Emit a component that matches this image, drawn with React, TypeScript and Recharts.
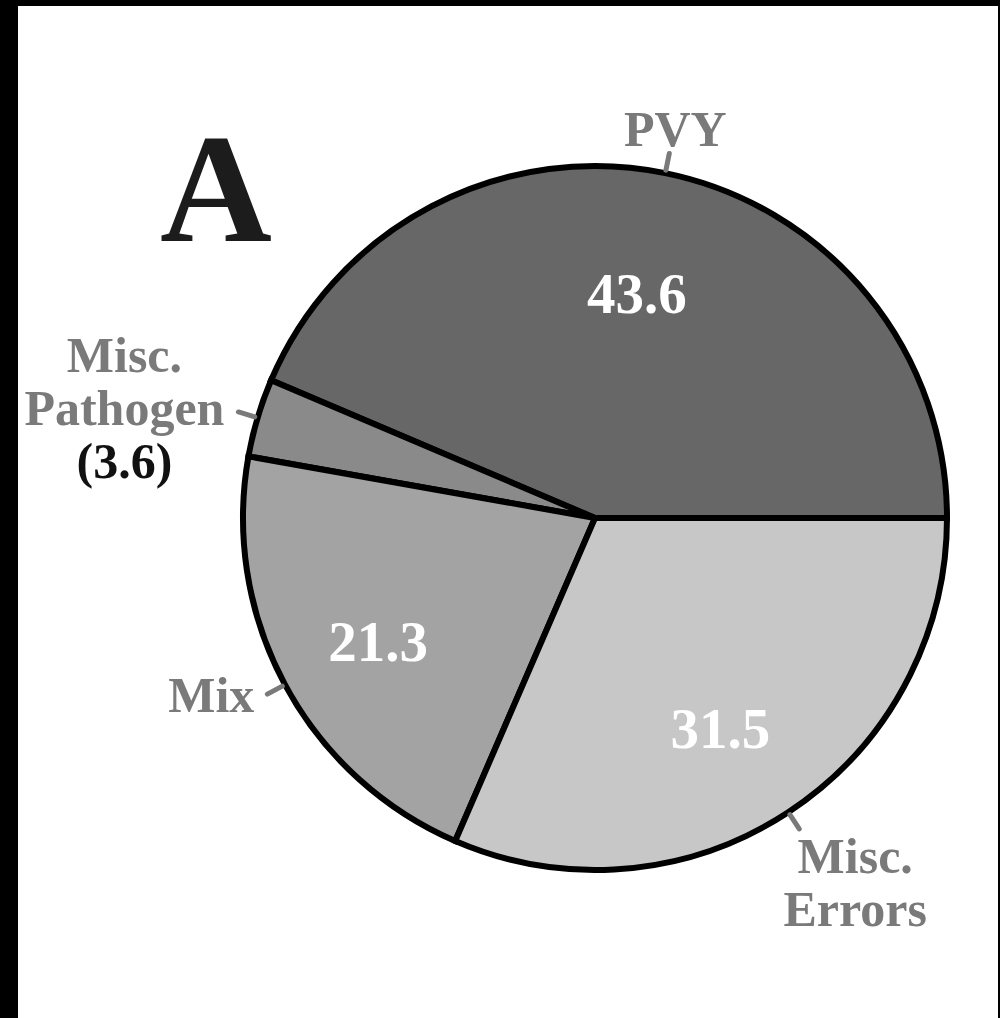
import { PieChart, Pie, Cell } from "recharts"

const categories = ["PVY", "Misc. Pathogen", "Mix", "Misc. Errors"]
const shares = [43.6, 3.6, 21.3, 31.5]
const outerLines = [["PVY"], ["Misc.", "Pathogen"], ["Mix"], ["Misc.", "Errors"]]

const data = categories.map((name, i) => ({ name, value: shares[i] }))

const fills = ["#676767", "#8a8a8a", "#a3a3a3", "#c7c7c7"]
const serif = "'Liberation Serif', 'Times New Roman', serif"
const labelGray = "#7a7a7a"

// where each outer label sits relative to the end of its little tick
const placement = [
  { anchor: "middle", dx: 6, dy: -7 },
  { anchor: "middle", dx: -114, dy: -40 },
  { anchor: "end", dx: -13, dy: 18 },
  { anchor: "middle", dx: 56, dy: 44 },
]

const RAD = Math.PI / 180

function renderLabel(props: any) {
  const { cx, cy, midAngle, outerRadius, value, index } = props
  const cos = Math.cos(-midAngle * RAD)
  const sin = Math.sin(-midAngle * RAD)
  const x1 = cx + (outerRadius + 3) * cos
  const y1 = cy + (outerRadius + 3) * sin
  const x2 = cx + (outerRadius + 20) * cos
  const y2 = cy + (outerRadius + 20) * sin
  const p = placement[index]
  const small = value < 5
  const lines = outerLines[index]

  const ix = cx + outerRadius * 0.68 * cos - 6
  const iy = cy + outerRadius * 0.68 * sin + 30

  return (
    <g>
      <line
        x1={x1}
        y1={y1}
        x2={x2}
        y2={y2}
        stroke={labelGray}
        strokeWidth={5}
        strokeLinecap="round"
      />
      <text
        x={x2 + p.dx}
        y={y2 + p.dy}
        textAnchor={p.anchor as any}
        fontFamily={serif}
        fontWeight="bold"
        fontSize={50}
        fill={labelGray}
      >
        {lines.map((l, k) => (
          <tspan key={k} x={x2 + p.dx} dy={k === 0 ? 0 : 53}>
            {l}
          </tspan>
        ))}
        {small && (
          <tspan x={x2 + p.dx} dy={53} fill="#111">
            ({value})
          </tspan>
        )}
      </text>
      {!small && (
        <text
          x={ix}
          y={iy}
          textAnchor="middle"
          fontFamily={serif}
          fontWeight="bold"
          fontSize={57}
          fill="#fff"
        >
          {value}
        </text>
      )}
    </g>
  )
}

export default function App() {
  return (
    <div
      style={{
        position: "absolute",
        left: 0,
        top: 0,
        width: 1000,
        height: 1018,
        background: "#000",
        overflow: "hidden",
      }}
    >
      <div
        style={{
          position: "absolute",
          left: 18,
          top: 6,
          width: 980,
          height: 1012,
          background: "#fff",
        }}
      />
      <svg
        width={1000}
        height={1018}
        style={{ position: "absolute", left: 0, top: 0 }}
      >
        <text
          x={216}
          y={241}
          textAnchor="middle"
          fontFamily={serif}
          fontWeight="bold"
          fontSize={155}
          fill="#1c1c1c"
        >
          A
        </text>
      </svg>
      <div style={{ position: "absolute", left: 0, top: 0 }}>
        <PieChart
          width={1000}
          height={1018}
          margin={{ top: 0, right: 0, bottom: 0, left: 0 }}
        >
          <Pie
            data={data}
            dataKey="value"
            nameKey="name"
            cx={595}
            cy={518}
            outerRadius={352}
            startAngle={0}
            endAngle={360}
            stroke="#000"
            strokeWidth={6}
            label={renderLabel}
            labelLine={false}
            isAnimationActive={false}
          >
            {data.map((d, i) => (
              <Cell key={d.name} fill={fills[i]} />
            ))}
          </Pie>
        </PieChart>
      </div>
    </div>
  )
}
